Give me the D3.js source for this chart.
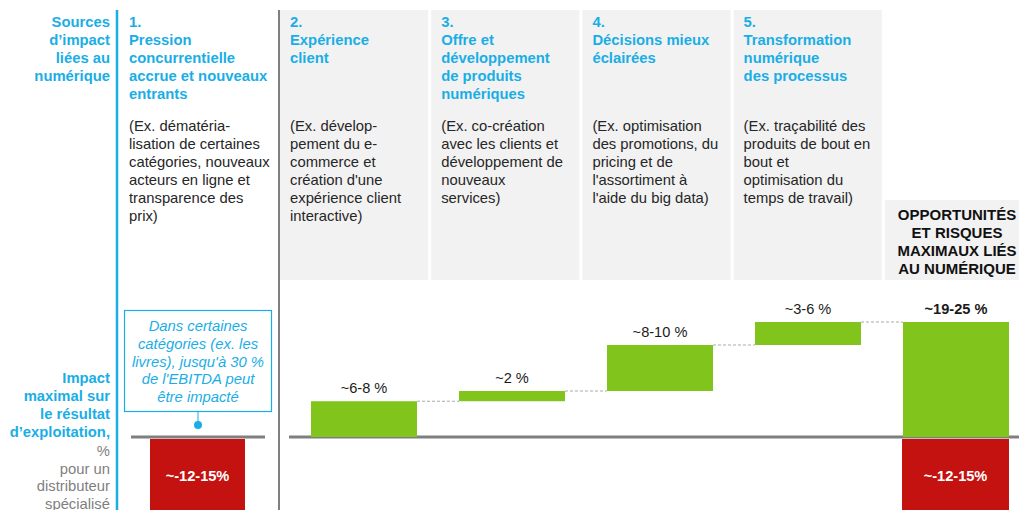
<!DOCTYPE html>
<html>
<head>
<meta charset="utf-8">
<style>
  body { margin: 0; background: #fff; }
  svg { display: block; font-family: "Liberation Sans", Arial, sans-serif; }
  .hd { fill: #1aaee6; font-weight: bold; font-size: 14.8px; }
  .desc { fill: #262626; font-size: 14.8px; }
  .val { fill: #1a1a1a; font-size: 14.6px; }
</style>
<script src="https://d3js.org/d3.v7.min.js"></script>
</head>
<body>
<div id="chart"></div>
<script>
// ---- data ----
const sourceLabel = ["Sources", "d\u2019impact", "li\u00e9es au", "num\u00e9rique"];
const impactLabel = ["Impact", "maximal sur", "le r\u00e9sultat", "d\u2019exploitation,"];
const impactUnit = ["%", "pour un", "distributeur", "sp\u00e9cialis\u00e9"];

const firstHeader = ["1.", "Pression", "concurrentielle", "accrue et nouveaux", "entrants"];
const firstDesc = ["(Ex. d\u00e9mat\u00e9ria-", "lisation de certaines", "cat\u00e9gories, nouveaux", "acteurs en ligne et", "transparence des", "prix)"];
const firstValue = -14;
const firstLabel = "~-12-15%";
const callout = ["Dans certaines", "cat\u00e9gories (ex. les", "livres), jusqu'\u00e0 30 %", "de l'EBITDA peut", "\u00eatre impact\u00e9"];

const categories = ["2", "3", "4", "5"];
const headers = [
  ["2.", "Exp\u00e9rience", "client"],
  ["3.", "Offre et", "d\u00e9veloppement", "de produits", "num\u00e9riques"],
  ["4.", "D\u00e9cisions mieux", "\u00e9clair\u00e9es"],
  ["5.", "Transformation", "num\u00e9rique", "des processus"]
];
const descriptions = [
  ["(Ex. d\u00e9velop-", "pement du e-", "commerce et", "cr\u00e9ation d'une", "exp\u00e9rience client", "interactive)"],
  ["(Ex. co-cr\u00e9ation", "avec les clients et", "d\u00e9veloppement de", "nouveaux", "services)"],
  ["(Ex. optimisation", "des promotions, du", "pricing et de", "l'assortiment \u00e0", "l'aide du big data)"],
  ["(Ex. tra\u00e7abilit\u00e9 des", "produits de bout en", "bout et", "optimisation du", "temps de travail)"]
];
const values = [7, 2, 9, 4.5];
const valueLabels = ["~6-8 %", "~2 %", "~8-10 %", "~3-6 %"];

const totalHeader = ["OPPORTUNIT\u00c9S", "ET RISQUES", "MAXIMAUX LI\u00c9S", "AU NUM\u00c9RIQUE"];
const totalValue = 22.5;
const totalLabel = "~19-25 %";
const riskValue = -14;
const riskLabel = "~-12-15%";

// ---- setup ----
const width = 1019, height = 510;
const blue = "#1aaee6", green = "#80c41c", red = "#c3120f", grey = "#7f7f7f";

const svg = d3.select("#chart").append("svg")
  .attr("width", width).attr("height", height);

const cols = [...categories, "total"];
const colX = d3.scaleBand().domain(cols).range([280, 1033]).paddingInner(0.02);
const barX = d3.scaleBand().domain(cols).range([290, 1030]).paddingInner(0.284).paddingOuter(0.142);
const y = d3.scaleLinear().domain([0, totalValue]).range([437, 322]);

const lh = 18;
function lines(g, arr, x, y0, cls, anchor) {
  g.append("text").attr("class", cls).attr("text-anchor", anchor || "start")
    .selectAll("tspan").data(arr).join("tspan")
    .attr("x", x).attr("y", (d, i) => y0 + i * lh).text(d => d);
}

// gray column backgrounds
svg.selectAll("rect.col").data(categories).join("rect").attr("class", "col")
  .attr("x", d => colX(d)).attr("y", 10)
  .attr("width", colX.bandwidth()).attr("height", 270)
  .attr("fill", "#f2f2f2");
svg.append("rect").attr("x", colX("total")).attr("y", 200)
  .attr("width", colX.bandwidth()).attr("height", 80).attr("fill", "#f2f2f2");

// separators
svg.append("line").attr("x1", 117).attr("x2", 117).attr("y1", 10).attr("y2", height)
  .attr("stroke", blue).attr("stroke-width", 2.5);
svg.append("line").attr("x1", 279).attr("x2", 279).attr("y1", 10).attr("y2", height)
  .attr("stroke", grey).attr("stroke-width", 2);

// left labels
lines(svg, sourceLabel, 110, 27, "hd", "end");
lines(svg, impactLabel, 110, 383, "hd", "end");
svg.append("text").attr("text-anchor", "end").attr("font-size", "14.8px").attr("fill", grey)
  .selectAll("tspan").data(impactUnit).join("tspan")
  .attr("x", 110).attr("y", (d, i) => 456 + i * 17.5).text(d => d);

// headers + descriptions
lines(svg, firstHeader, 129, 27, "hd");
lines(svg, firstDesc, 129, 131, "desc");
categories.forEach((c, i) => {
  lines(svg, headers[i], colX(c) + 10, 27, "hd");
  lines(svg, descriptions[i], colX(c) + 10, 131, "desc");
});
const th = svg.append("text").attr("text-anchor", "middle").attr("font-weight", "bold")
  .attr("font-size", "15px").attr("fill", "#111");
th.selectAll("tspan").data(totalHeader).join("tspan")
  .attr("x", 957).attr("y", (d, i) => 220 + i * 18).text(d => d);

// baselines
svg.append("line").attr("x1", 131).attr("x2", 265).attr("y1", y(0)).attr("y2", y(0))
  .attr("stroke", grey).attr("stroke-width", 3);
svg.append("line").attr("x1", 289).attr("x2", width).attr("y1", y(0)).attr("y2", y(0))
  .attr("stroke", grey).attr("stroke-width", 3);

// waterfall
let acc = 0;
const steps = values.map((v, i) => { const s = { c: categories[i], start: acc, end: acc + v, label: valueLabels[i] }; acc += v; return s; });

svg.selectAll("rect.step").data(steps).join("rect").attr("class", "step")
  .attr("x", d => barX(d.c)).attr("width", barX.bandwidth())
  .attr("y", d => y(d.end)).attr("height", d => y(d.start) - y(d.end))
  .attr("fill", green);
svg.selectAll("text.vl").data(steps).join("text").attr("class", "val")
  .attr("text-anchor", "middle")
  .attr("x", d => barX(d.c) + barX.bandwidth() / 2).attr("y", d => y(d.end) - 8)
  .text(d => d.label);

// connectors
const nextCol = cols.slice(1);
svg.selectAll("line.conn").data(steps).join("line")
  .attr("x1", d => barX(d.c) + barX.bandwidth()).attr("x2", (d, i) => barX(nextCol[i]))
  .attr("y1", d => y(d.end)).attr("y2", d => y(d.end))
  .attr("stroke", "#aaa").attr("stroke-width", 1).attr("stroke-dasharray", "3,2");

// total
svg.append("rect").attr("x", barX("total")).attr("width", barX.bandwidth())
  .attr("y", y(totalValue)).attr("height", y(0) - y(totalValue)).attr("fill", green);
svg.append("text").attr("class", "val").attr("font-weight", "bold").attr("text-anchor", "middle")
  .attr("x", barX("total") + barX.bandwidth() / 2).attr("y", y(totalValue) - 8).text(totalLabel);

// negative bars
const negs = [
  { x: 150, w: 95, v: firstValue, label: firstLabel },
  { x: barX("total") - 1, w: barX.bandwidth() + 1, v: riskValue, label: riskLabel }
];
svg.selectAll("rect.neg").data(negs).join("rect")
  .attr("x", d => d.x).attr("width", d => d.w)
  .attr("y", y(0) + 2).attr("height", d => y(d.v) - y(0))
  .attr("fill", red);
svg.selectAll("text.neg").data(negs).join("text")
  .attr("text-anchor", "middle").attr("fill", "#fff").attr("font-weight", "bold").attr("font-size", "14.6px")
  .attr("x", d => d.x + d.w / 2).attr("y", 481).text(d => d.label);

// callout
svg.append("rect").attr("x", 124.5).attr("y", 310.5).attr("width", 147).attr("height", 101)
  .attr("fill", "#fff").attr("stroke", blue).attr("stroke-width", 1.2);
svg.append("text").attr("text-anchor", "middle").attr("font-style", "italic")
  .attr("font-size", "14.8px").attr("fill", blue)
  .selectAll("tspan").data(callout).join("tspan")
  .attr("x", 198).attr("y", (d, i) => 331 + i * 17.8).text(d => d);
svg.append("line").attr("x1", 198).attr("x2", 198).attr("y1", 411).attr("y2", 425)
  .attr("stroke", blue).attr("stroke-width", 1);
svg.append("circle").attr("cx", 198).attr("cy", 425).attr("r", 4).attr("fill", blue);
</script>
</body>
</html>
